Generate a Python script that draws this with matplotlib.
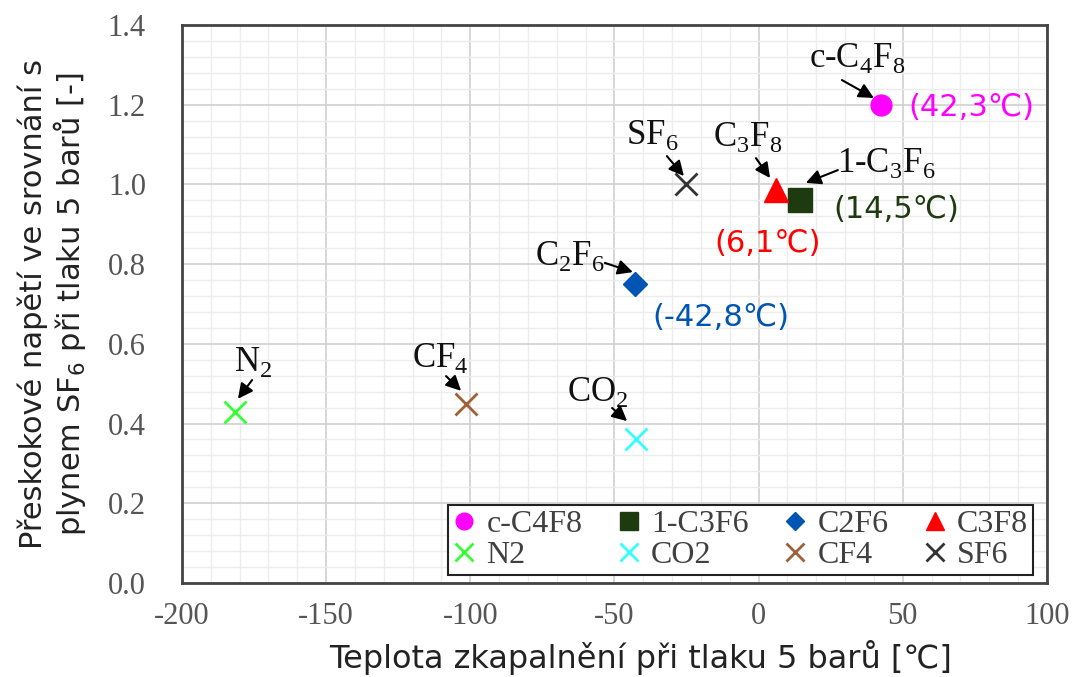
import matplotlib
matplotlib.use("Agg")
import matplotlib.pyplot as plt
from matplotlib.ticker import MultipleLocator, FormatStrFormatter

plt.rcParams["axes.unicode_minus"] = False

# Gases: liquefaction temperature at 5 bar vs. breakdown voltage relative to SF6
gases = ["c-C4F8", "1-C3F6", "C2F6", "C3F8", "N2", "CO2", "CF4", "SF6"]
temps = [42.3, 14.5, -42.8, 6.1, -181.5, -42.5, -101.5, -25.0]
ratios = [1.20, 0.96, 0.75, 0.985, 0.43, 0.36, 0.45, 1.00]

colors = ["#ff00ff", "#1e3a0f", "#0055b3", "#ff0000",
          "#33ff33", "#33ffff", "#a0603a", "#333333"]
markers = ["o", "s", "D", "^", "x", "x", "x", "x"]
sizes = [15, 17, 12, 17, 16, 16, 16, 16]

# chemical formula labels: text position, arrow tail, arrow tip
formula_labels = [r"c-C$_\mathregular{4}$F$_\mathregular{8}$", r"1-C$_\mathregular{3}$F$_\mathregular{6}$",
                  r"C$_\mathregular{2}$F$_\mathregular{6}$", r"C$_\mathregular{3}$F$_\mathregular{8}$",
                  r"N$_\mathregular{2}$", r"CO$_\mathregular{2}$", r"CF$_\mathregular{4}$",
                  r"SF$_\mathregular{6}$"]
label_pos = [(34.1, 1.317), (44.2, 1.054), (-65.4, 0.820), (-3.7, 1.119),
             (-175.4, 0.554), (-55.7, 0.479), (-110.5, 0.564), (-37.0, 1.124)]
arrow_tail = [(28.9, 1.262), (27.5, 1.036), (-53.3, 0.803), (-0.9, 1.066),
              (-175.7, 0.509), (-50.8, 0.439), (-108.4, 0.519), (-31.8, 1.071)]
arrow_tip = [(40.0, 1.217), (16.4, 1.004), (-43.6, 0.780), (4.0, 1.016),
             (-180.6, 0.462), (-45.6, 0.406), (-103.2, 0.482), (-25.9, 1.021)]

# temperature annotations for the fluorinated gases
temp_idx = [0, 1, 2, 3]
temp_text = ["(42,3℃)", "(14,5℃)", "(-42,8℃)", "(6,1℃)"]
temp_pos = [(51.8, 1.194), (25.8, 0.936), (-37.0, 0.665), (-15.5, 0.853)]

SERIF = ["Liberation Serif", "DejaVu Serif"]
SANS = ["DejaVu Sans"]

fig = plt.figure(figsize=(10.77, 6.77), dpi=100)
ax = fig.add_axes([0.169, 0.139, 0.803, 0.824])

handles = []
for name, x, y, c, m, s in zip(gases, temps, ratios, colors, markers, sizes):
    if m == "x":
        h, = ax.plot(x, y, ls="none", marker=m, color=c, ms=s, mew=2, label=name, zorder=3)
    else:
        h, = ax.plot(x, y, ls="none", marker=m, color=c, ms=s, mec=c, label=name, zorder=3)
    handles.append(h)

for lab, pos, tail, tip in zip(formula_labels, label_pos, arrow_tail, arrow_tip):
    ax.text(pos[0], pos[1], lab, ha="center", va="center", fontsize=25,
            family=SERIF, color="#111111", zorder=4)
    ax.annotate("", xy=tip, xytext=tail,
                arrowprops=dict(arrowstyle="-|>,head_length=0.9,head_width=0.45",
                                color="black", lw=1.5, shrinkA=0, shrinkB=0),
                zorder=4)

for i, txt, pos in zip(temp_idx, temp_text, temp_pos):
    ax.text(pos[0], pos[1], txt, ha="left", va="center", fontsize=22,
            family=SANS, color=colors[i], zorder=4)

ax.set_xlim(-200, 100)
ax.set_ylim(0, 1.4)
ax.xaxis.set_major_locator(MultipleLocator(50))
ax.xaxis.set_minor_locator(MultipleLocator(10))
ax.yaxis.set_major_locator(MultipleLocator(0.2))
ax.yaxis.set_minor_locator(MultipleLocator(0.04))
ax.yaxis.set_major_formatter(FormatStrFormatter("%.1f"))
ax.grid(which="major", color="#d0d0d0", lw=1.2, zorder=0)
ax.grid(which="minor", color="#ececec", lw=1.0, zorder=0)
ax.set_axisbelow(True)
ax.tick_params(which="both", length=0, labelsize=22, labelcolor="#555555")
ax.tick_params(axis="x", pad=14)
ax.tick_params(axis="y", pad=26)
for t in ax.get_xticklabels() + ax.get_yticklabels():
    t.set_family(SERIF)
for sp in ax.spines.values():
    sp.set_color("#444444")
    sp.set_linewidth(2)

ax.set_xlabel("Teplota zkapalnění při tlaku 5 barů [℃]", fontsize=23,
              family=SANS, color="#222222")
ax.xaxis.set_label_coords(0.53, -0.102)
ax.set_ylabel("Přeskokové napětí ve srovnání s\nplynem SF$_\\mathregular{6}$ při tlaku 5 barů [-]",
              fontsize=22, family=SANS, color="#222222", labelpad=14, linespacing=1.1)

# two legend rows: fluorinated gases on top, the rest below
order = [0, 4, 1, 5, 2, 6, 3, 7]
leg = ax.legend([handles[k] for k in order], [gases[k] for k in order],
                ncol=4, loc="lower right", bbox_to_anchor=(0.984, 0.014),
                prop={"family": SERIF, "size": 23}, frameon=True, fancybox=False,
                handlelength=0.7, handletextpad=0.35, columnspacing=1.1,
                borderpad=0.15, labelspacing=0.05, markerscale=0.8,
                borderaxespad=0)
leg.get_frame().set_edgecolor("#222222")
leg.get_frame().set_linewidth(1.5)
leg.get_frame().set_alpha(1)
for t in leg.get_texts():
    t.set_color("#404040")

fig.savefig("out.png", dpi=100)
